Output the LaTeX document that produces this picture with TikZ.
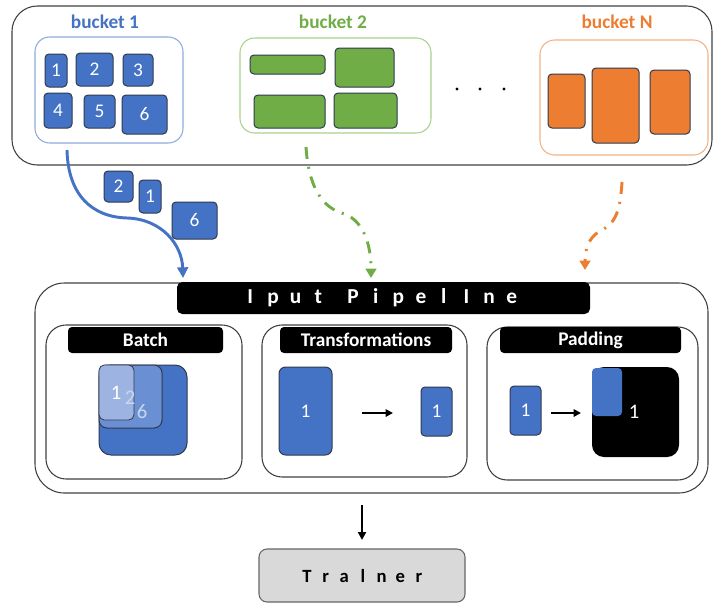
\documentclass[tikz,border=0pt]{standalone}
\usepackage{fontspec}
\setmainfont{Carlito}
\usetikzlibrary{arrows.meta}

\definecolor{bblue}{HTML}{4472C4}
\definecolor{bgreen}{HTML}{70AD47}
\definecolor{borange}{HTML}{ED7D31}
\definecolor{lblue}{HTML}{8FAADC}
\definecolor{lgreen}{HTML}{A9D18E}
\definecolor{lorange}{HTML}{F4B183}
\definecolor{edge}{HTML}{404040}
\definecolor{itemedge}{HTML}{303A4E}
\definecolor{midblue}{HTML}{6A8FD3}
\definecolor{paleblue}{HTML}{9DB4E2}
\definecolor{palenum}{HTML}{C9D6F0}
\definecolor{trainfill}{HTML}{D9D9D9}

% rectangle node given by its corners (in px units)
\newcommand\rbox[7]{\node[#6, inner sep=0pt, outer sep=0pt,
  minimum width={(#4-#2)*0.75pt}, minimum height={(#5-#3)*0.75pt}]
  (#1) at ({(#2+#4)/2},{(#3+#5)/2}) {#7};}
% one letter cell for spaced-out headings
\newcommand\lc[1]{\makebox[17pt]{#1}}
\newcommand\tc[1]{\makebox[14pt]{#1}}

\tikzset{
  frame/.style={draw=edge, line width=0.8pt},
  bucketlabel/.style={font=\bfseries\fontsize{14.5}{16}\selectfont},
  item/.style={draw=itemedge, line width=0.75pt, rounded corners=3pt,
    text=white, font=\fontsize{14.5}{16}\selectfont},
  blueitem/.style={item, fill=bblue},
  greenitem/.style={item, fill=bgreen},
  orangeitem/.style={item, fill=borange},
  bar/.style={fill=black, rounded corners=3pt, text=white,
    font=\bfseries\fontsize{14.5}{16}\selectfont},
  blk/.style={line width=1.6pt, -{Triangle[length=5.5pt,width=5.5pt]}},
  flow/.style={line width=2.2pt},
}

\begin{document}
\begin{tikzpicture}[x=0.75pt, y=-0.75pt]
\useasboundingbox (0,0) rectangle (713,603);

% ---------- buckets ----------
\rbox{top}{12}{6}{712}{165}{frame, rounded corners=19pt}{}

\node[bucketlabel, text=bblue] (lab1) at (105,22) {bucket 1};
\node[bucketlabel, text=bgreen] (lab2) at (333,22) {bucket 2};
\node[bucketlabel, text=borange] (labN) at (617,22) {bucket N};

\rbox{b1}{35}{37}{183}{143}{draw=lblue, line width=0.8pt, rounded corners=11pt}{}
\rbox{b2}{240}{38}{431}{133}{draw=lgreen, line width=0.8pt, rounded corners=11pt}{}
\rbox{bN}{540}{40}{708}{155}{draw=lorange, line width=0.8pt, rounded corners=11pt}{}

\rbox{i1}{45}{54}{67}{87}{blueitem}{1}
\rbox{i2}{76}{53}{113}{86}{blueitem}{2}
\rbox{i3}{123}{54}{153}{86}{blueitem}{3}
\rbox{i4}{44}{93}{72}{128}{blueitem}{4}
\rbox{i5}{84}{95}{115}{128}{blueitem}{5}
\rbox{i6}{122}{95}{167}{134}{blueitem}{6}

\rbox{g1}{250}{55}{325}{74}{greenitem}{}
\rbox{g2}{335}{48}{394}{87}{greenitem}{}
\rbox{g3}{254}{95}{325}{128}{greenitem}{}
\rbox{g4}{334}{93}{397}{128}{greenitem}{}

\rbox{o1}{548}{74}{585}{128}{orangeitem}{}
\rbox{o2}{592}{68}{639}{143}{orangeitem}{}
\rbox{o3}{650}{70}{690}{134}{orangeitem}{}

\node[circle, fill=black, inner sep=0pt, minimum size=2.6pt] (d1) at (457,89) {};
\node[circle, fill=black, inner sep=0pt, minimum size=2.6pt] (d2) at (480,89) {};
\node[circle, fill=black, inner sep=0pt, minimum size=2.6pt] (d3) at (504,89) {};

% ---------- items on their way ----------
\rbox{m2}{104}{171}{133}{202}{blueitem}{2}
\rbox{m1}{139}{180}{161}{213}{blueitem}{1}
\rbox{m6}{172}{202}{217}{239}{blueitem}{6}

% ---------- input pipeline ----------
\rbox{pipe}{35}{283}{708}{493}{frame, rounded corners=22pt}{}
\rbox{title}{177}{282}{590}{314}{fill=black, rounded corners=4pt}{}
\node[text=white, font=\bfseries\fontsize{16}{18}\selectfont] (titletext) at (381,298)
  {\lc{I}\lc{p}\lc{u}\lc{t}\hspace{9pt}\lc{P}\lc{i}\lc{p}\lc{e}\lc{l}\lc{I}\lc{n}\lc{e}};

% Batch
\rbox{batch}{46}{325}{242}{479}{frame, rounded corners=15pt}{}
\rbox{batchbar}{68}{327}{223}{353}{bar}{Batch}
\rbox{bbig}{99}{365}{187}{455}{draw=itemedge, line width=0.75pt, fill=bblue, rounded corners=9pt}{}
\rbox{bmid}{99}{365}{162}{428}{draw=itemedge, line width=0.75pt, fill=midblue, rounded corners=6pt}{}
\rbox{blight}{99}{365}{134}{420}{draw=itemedge, line width=0.6pt, fill=paleblue, rounded corners=4pt}{}
\node[text=white, font=\fontsize{15.5}{17}\selectfont] (bn1) at (116,393) {1};
\node[text=palenum, font=\fontsize{15.5}{17}\selectfont] (bn2) at (130,398) {2};
\node[text=palenum, font=\fontsize{15.5}{17}\selectfont] (bn6) at (142,412) {6};

% Transformations
\rbox{trans}{262}{325}{467}{477}{frame, rounded corners=15pt}{}
\rbox{transbar}{280}{327}{452}{353}{bar}{Transformations}
\rbox{t1}{279}{367}{332}{455}{blueitem, rounded corners=5pt}{1}
\rbox{t2}{421}{387}{452}{436}{blueitem}{1}
\draw[blk, shorten <=22.5pt, shorten >=21pt] (t1.east |- 0,413) -- (t2.west |- 0,413);

% Padding
\rbox{padbox}{487}{327}{698}{480}{frame, rounded corners=15pt}{}
\rbox{padbar}{500}{327}{681}{353}{bar}{Padding}
\rbox{p1}{510}{386}{541}{435}{blueitem}{1}
\rbox{pad}{592}{367}{679}{457}{fill=black, rounded corners=9pt}{}
\rbox{p2}{592}{368}{622}{416}{fill=bblue, rounded corners=3pt}{}
\node[text=white, font=\fontsize{15.5}{17}\selectfont] (pn) at (634,412) {1};
\draw[blk, shorten <=7.5pt, shorten >=8.25pt] (p1.east |- 0,413) -- (pad.west |- 0,413);

% ---------- trainer ----------
\rbox{trainer}{259}{549}{465}{602}{draw=edge!80, line width=0.8pt, fill=trainfill, rounded corners=6pt}{}
\node[font=\bfseries\fontsize{14}{16}\selectfont] (traintext) at (363,576)
  {\tc{T}\tc{r}\tc{a}\tc{l}\tc{n}\tc{e}\tc{r}};
\draw[line width=1.6pt, -{Triangle[length=6pt,width=6pt]}, shorten <=9pt, shorten >=6.75pt]
  (trainer.north |- pipe.south) -- (trainer.north);

% ---------- flows from the buckets ----------
\coordinate (s1) at (67,150);
\coordinate (e1) at (183,278);
\coordinate (s2) at (306,147);
\coordinate (e2) at (371,278);
\coordinate (sN) at (622,182);
\coordinate (eN) at (585,270);

\draw[flow, draw=bblue, -{Triangle[length=8pt,width=8pt]}]
  (s1) .. controls (68,195) and (92,217) .. (127,218)
       .. controls (162,219) and (182,245) .. (e1);
\draw[flow, draw=bgreen, dash pattern=on 9pt off 6pt on 1.5pt off 6pt,
      -{Triangle[length=7pt,width=8pt]}]
  (s2) .. controls (309,195) and (328,210) .. (345,214)
       .. controls (364,222) and (371,245) .. (e2);
\draw[flow, draw=borange, dash pattern=on 9pt off 6pt on 1.5pt off 6pt,
      -{Triangle[length=7pt,width=8pt]}]
  (sN) .. controls (620,215) and (614,224) .. (600,231)
       .. controls (588,238) and (585,250) .. (eN);
\end{tikzpicture}
\end{document}
